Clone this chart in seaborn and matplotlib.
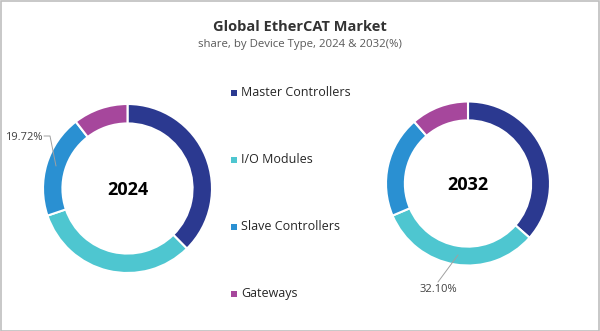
import matplotlib
matplotlib.use("Agg")
import matplotlib.pyplot as plt
import seaborn as sns
from matplotlib.patches import Rectangle

categories = ["Master Controllers", "I/O Modules", "Slave Controllers", "Gateways"]
share_2024 = [37.6, 32.2, 19.72, 10.48]
share_2032 = [36.5, 32.10, 20.0, 11.4]
colors = ["#2B3990", "#4EC6D0", "#2A90D2", "#A6479C"]

sns.set_theme(style="white")
plt.rcParams['font.family'] = ['Open Sans', 'DejaVu Sans']

W, H = 600, 331
fig = plt.figure(figsize=(6.0, 3.31), dpi=100)

def px_axes(cx, cy, r):
    return fig.add_axes([(cx - r) / W, (H - cy - r) / H, 2 * r / W, 2 * r / H])

def donut(ax, vals, year):
    ax.pie(vals, colors=colors, startangle=90, counterclock=False,
           radius=1.0, wedgeprops=dict(width=0.23, edgecolor="white", linewidth=1.5))
    ax.set_xlim(-1, 1)
    ax.set_ylim(-1, 1)
    ax.set_axis_off()
    ax.text(0, -0.02, year, ha="center", va="center", fontsize=13,
            fontweight="bold", color="black")

axL = px_axes(127.5, 188.5, 84.5)
donut(axL, share_2024, "2024")
axR = px_axes(468, 183.5, 82)
donut(axR, share_2032, "2032")

# Annotations
fig.text(5 / W, 1 - 137 / H, "19.72%", fontsize=8, color="#404040", ha="left", va="center")
fig.lines.append(plt.Line2D([44 / W, 50 / W, 56 / W], [1 - 136 / H, 1 - 136 / H, 1 - 166 / H],
                            transform=fig.transFigure, color="#A0A0A0", lw=0.7))
fig.text(420 / W, 1 - 289 / H, "32.10%", fontsize=8, color="#404040", ha="left", va="center")
fig.lines.append(plt.Line2D([438 / W, 458 / W], [1 - 282 / H, 1 - 255 / H],
                            transform=fig.transFigure, color="#A0A0A0", lw=0.7))

# Legend
leg_y = [93, 159.5, 226.5, 293.5]
for lab, col, y in zip(categories, colors, leg_y):
    fig.patches.append(Rectangle(((230.5) / W, 1 - (y + 3) / H), 6 / W, 6 / H,
                                 transform=fig.transFigure, facecolor=col, edgecolor="none"))
    fig.text(241 / W, 1 - y / H, lab, fontsize=9, color="#262626", ha="left", va="center")

# Title
fig.text(0.5, 1 - 27 / H, "Global EtherCAT Market", ha="center", va="center",
         fontsize=10.5, fontweight="bold", color="#333333")
fig.text(0.5, 1 - 45 / H, "share, by Device Type, 2024 & 2032(%)", ha="center", va="center",
         fontsize=8.2, color="#595959")

# Border
fig.patches.append(Rectangle((0.5 / W, 0.5 / H), (W - 1.5) / W, (H - 1.5) / H,
                             transform=fig.transFigure, facecolor="none",
                             edgecolor="#BFBFBF", lw=1.2))

fig.savefig("out.png", dpi=100, facecolor="white")
